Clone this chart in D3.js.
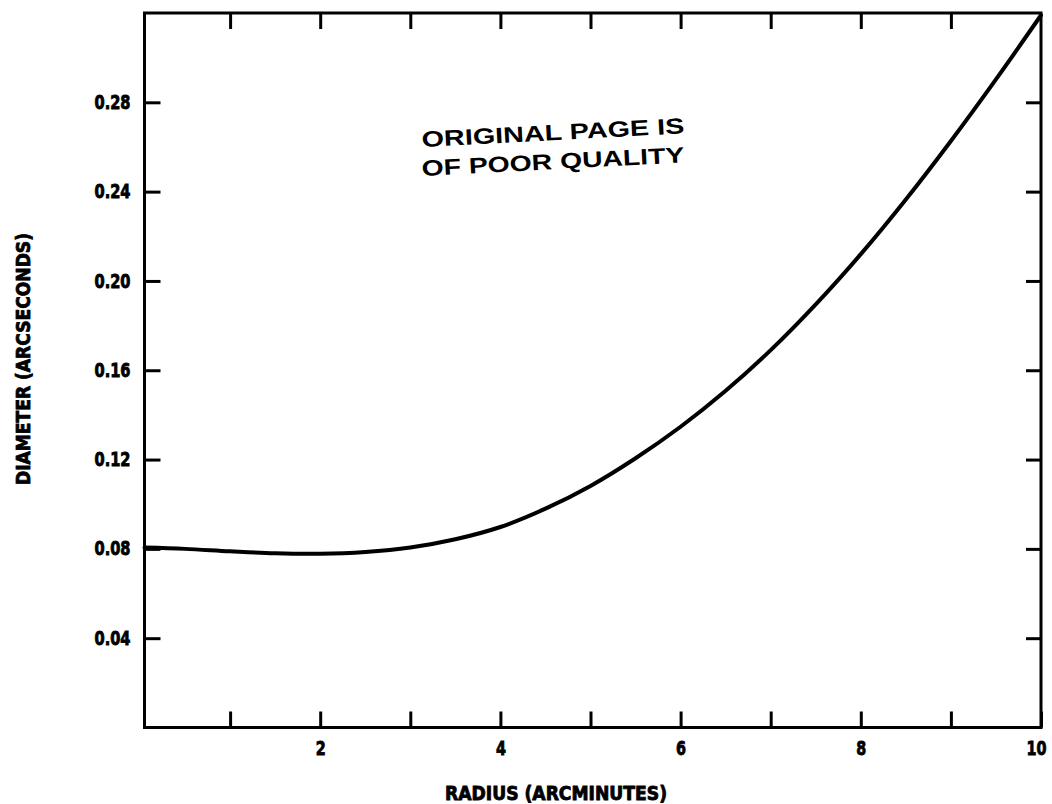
<!DOCTYPE html>
<html>
<head>
<meta charset="utf-8">
<script src="https://cdn.jsdelivr.net/npm/d3@7"></script>
<style>
  html, body { margin: 0; padding: 0; background: #fff; }
  svg { display: block; }
  .cond { font-family: "Liberation Sans Narrow", "DejaVu Sans Condensed", "DejaVu Sans", sans-serif; font-weight: bold; }
</style>
</head>
<body>
<div id="chart"></div>
<script>
// ---- data ----
const radius   = [0.05, 0.5, 1.0, 1.5, 2.0, 2.5, 3.0, 3.5, 4.0, 4.5, 5.0, 5.5, 6.0, 6.5, 7.0, 7.5, 8.0, 8.5, 9.0, 9.5, 10.0];
const diameter = [0.0806, 0.0800, 0.0789, 0.0780, 0.0778, 0.0786, 0.0806, 0.0843, 0.0898, 0.0980, 0.1082, 0.1206, 0.1347, 0.1508, 0.1690, 0.1895, 0.2120, 0.2365, 0.2627, 0.2903, 0.3190];
const xTickValues = [1, 2, 3, 4, 5, 6, 7, 8, 9, 10];
const xTickLabels = [2, 4, 6, 8, 10];
const yTickValues = [0.04, 0.08, 0.12, 0.16, 0.20, 0.24, 0.28];
const xTitle = "RADIUS (ARCMINUTES)";
const yTitle = "DIAMETER (ARCSECONDS)";
const stampLines = ["ORIGINAL PAGE IS", "OF POOR QUALITY"];

// ---- layout ----
const W = 1052, H = 804;
const svg = d3.select("#chart").append("svg").attr("width", W).attr("height", H);
svg.append("rect").attr("width", W).attr("height", H).attr("fill", "#fff");

const x = d3.scaleLinear().domain([0.05, 10]).range([144.5, 1041]);
const y = d3.scaleLinear().domain([0, 0.32]).range([727.5, 13]);

const tickLen = 16;

// width of a condensed label: digits ~10px, period ~6px
function labelWidth(s) {
  return Array.from(String(s)).reduce((a, c) => a + (c === "." ? 6 : 10), 0);
}

function styleAxis(g) {
  g.select(".domain").remove();
  g.selectAll(".tick line").attr("stroke", "#000").attr("stroke-width", 3);
  g.selectAll(".tick text")
    .attr("class", "cond")
    .attr("fill", "#000")
    .attr("stroke", "#000")
    .attr("stroke-width", 0.8)
    .style("font-size", "19px")
    .each(function () {
      const t = d3.select(this).text();
      if (t) d3.select(this).attr("textLength", labelWidth(t)).attr("lengthAdjust", "spacingAndGlyphs");
    });
}

// bottom axis
const gx = svg.append("g")
  .attr("transform", `translate(0,${y(0)})`)
  .call(d3.axisBottom(x).tickValues(xTickValues).tickSizeInner(-tickLen).tickSizeOuter(0)
        .tickPadding(14).tickFormat(d => xTickLabels.includes(d) ? d : ""))
  .call(styleAxis);
// keep the last label inside the picture
gx.selectAll(".tick text").filter(d => d === 10).attr("dx", -5);

// top axis (ticks only)
svg.append("g")
  .attr("transform", `translate(0,${y(0.32)})`)
  .call(d3.axisTop(x).tickValues(xTickValues.slice(0, -1)).tickSizeInner(-tickLen).tickSizeOuter(0).tickFormat(""))
  .call(styleAxis);

// left axis
svg.append("g")
  .attr("transform", `translate(${x(0.05)},0)`)
  .call(d3.axisLeft(y).tickValues(yTickValues).tickSizeInner(-tickLen).tickSizeOuter(0)
        .tickPadding(14).tickFormat(d3.format(".2f")))
  .call(styleAxis);

// right axis (ticks only)
svg.append("g")
  .attr("transform", `translate(${x(10)},0)`)
  .call(d3.axisRight(y).tickValues(yTickValues).tickSizeInner(-tickLen + 1).tickSizeOuter(0).tickFormat(""))
  .call(styleAxis);

// frame
svg.append("rect")
  .attr("x", x(0.05)).attr("y", y(0.32))
  .attr("width", x(10) - x(0.05)).attr("height", y(0) - y(0.32))
  .attr("fill", "none").attr("stroke", "#000").attr("stroke-width", 3);

// curve
const pts = radius.map((r, i) => [r, diameter[i]]);
svg.append("path")
  .datum(pts)
  .attr("fill", "none")
  .attr("stroke", "#000")
  .attr("stroke-width", 4)
  .attr("stroke-linecap", "round")
  .attr("d", d3.line().x(d => x(d[0])).y(d => y(d[1])).curve(d3.curveCatmullRom.alpha(0.5)));

// axis titles
svg.append("text")
  .attr("class", "cond")
  .attr("x", 556).attr("y", 800)
  .attr("text-anchor", "middle")
  .attr("textLength", 222).attr("lengthAdjust", "spacingAndGlyphs")
  .attr("stroke", "#000").attr("stroke-width", 0.8)
  .style("font-size", "19px")
  .text(xTitle);

svg.append("text")
  .attr("class", "cond")
  .attr("transform", "translate(30,359) rotate(-90)")
  .attr("text-anchor", "middle")
  .attr("textLength", 252).attr("lengthAdjust", "spacingAndGlyphs")
  .attr("stroke", "#000").attr("stroke-width", 0.8)
  .style("font-size", "20px")
  .text(yTitle);

// stamp
const stampBase = [[422, 147], [422, 176]];
stampLines.forEach((t, i) => {
  svg.append("text")
    .attr("transform", `translate(${stampBase[i][0]},${stampBase[i][1]}) rotate(-3)`)
    .attr("textLength", 263).attr("lengthAdjust", "spacingAndGlyphs")
    .style("font-family", "'Liberation Sans', Arial, sans-serif")
    .style("font-weight", "bold")
    .style("font-size", "22px")
    .attr("fill", "#000")
    .text(t);
});
</script>
</body>
</html>
